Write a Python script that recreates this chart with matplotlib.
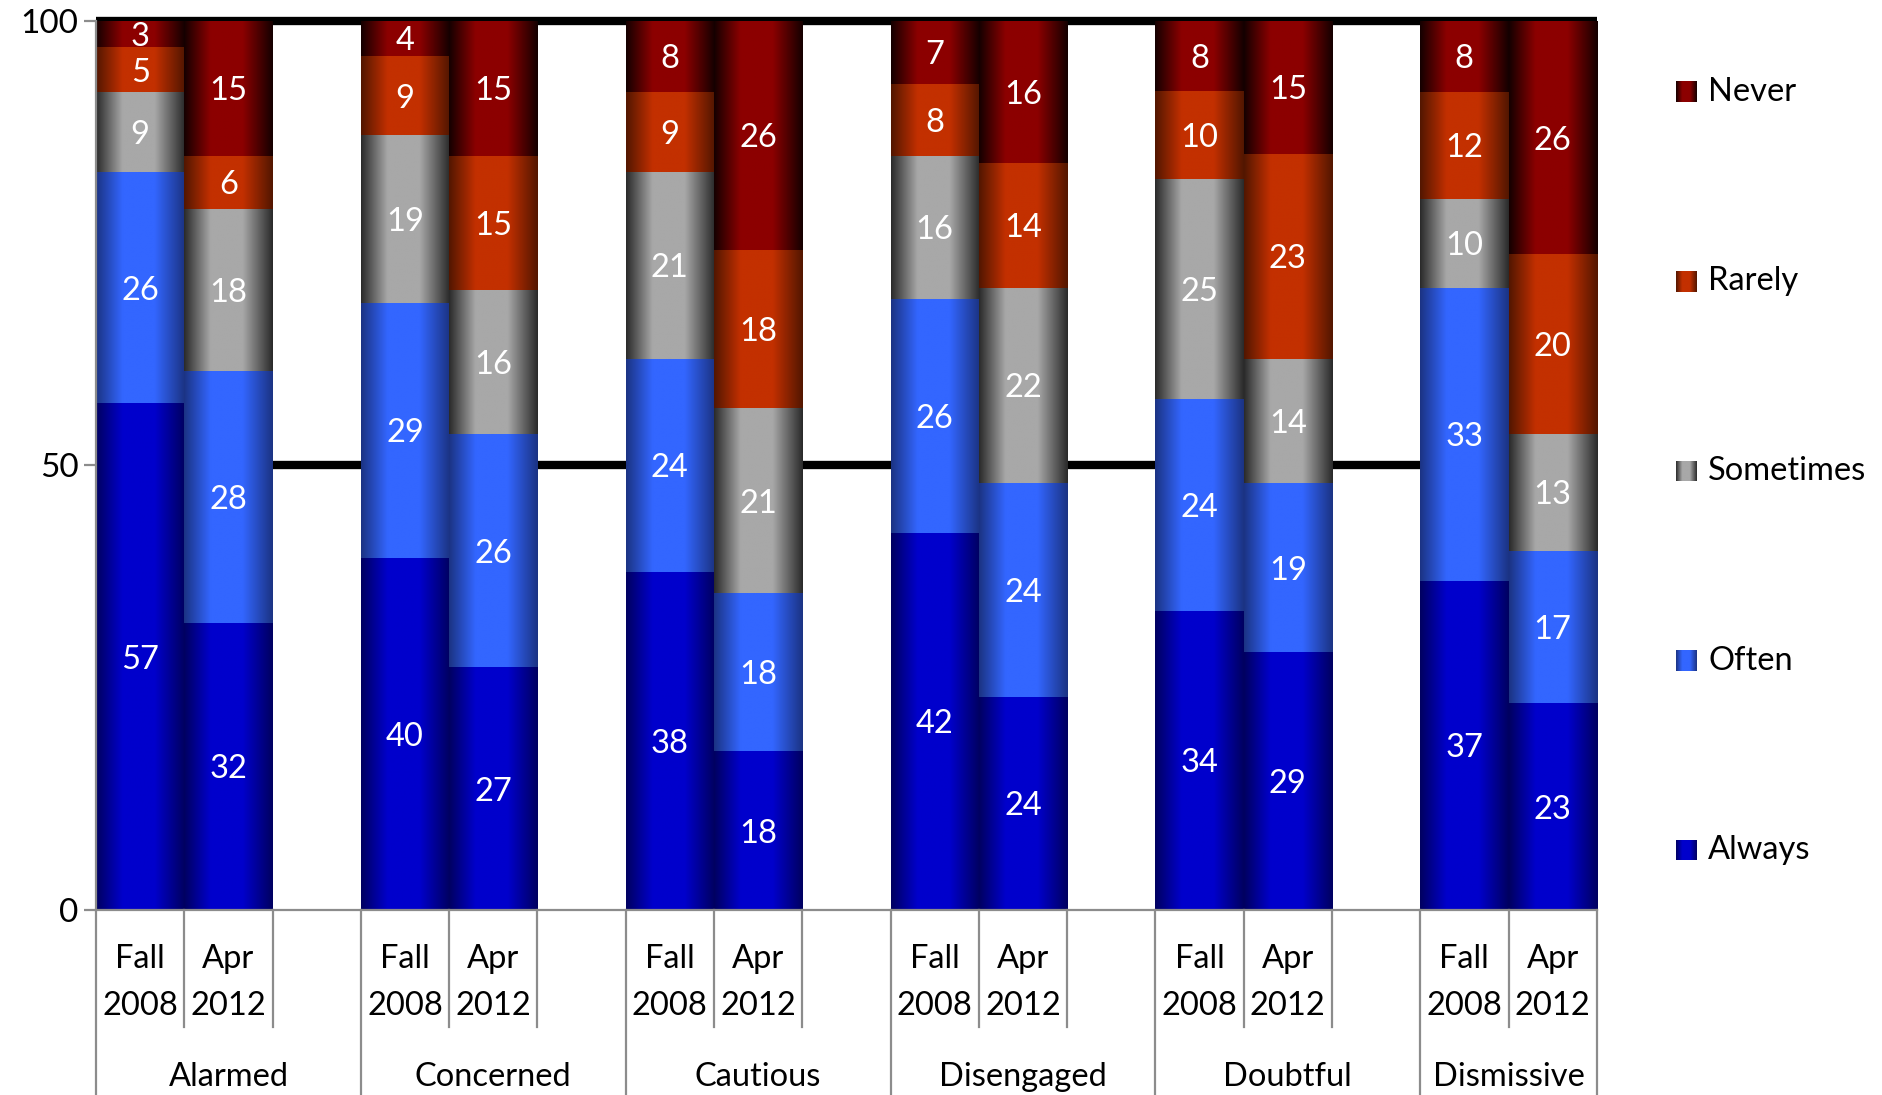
import numpy as np
import matplotlib
matplotlib.use("Agg")
import matplotlib.pyplot as plt
import matplotlib.transforms as mtransforms
from matplotlib.colors import LinearSegmentedColormap

plt.rcParams['font.family'] = ['Lato', 'DejaVu Sans']

groups = ['Alarmed', 'Concerned', 'Cautious', 'Disengaged', 'Doubtful', 'Dismissive']
waves = ['Fall\n2008', 'Apr\n2012']
responses = ['Always', 'Often', 'Sometimes', 'Rarely', 'Never']

# each list: Fall 2008, Apr 2012 for every group in order
always = [57, 32, 40, 27, 38, 18, 42, 24, 34, 29, 37, 23]
often = [26, 28, 29, 26, 24, 18, 26, 24, 24, 19, 33, 17]
sometimes = [9, 18, 19, 16, 21, 21, 16, 22, 25, 14, 10, 13]
rarely = [5, 6, 9, 15, 9, 18, 8, 14, 10, 23, 12, 20]
never = [3, 15, 4, 15, 8, 26, 7, 16, 8, 15, 8, 26]

series = [always, often, sometimes, rarely, never]

# (edge colour, centre colour) for the horizontal shading of each bar
shades = {
    'Always': ('#000060', '#0000cc'),
    'Often': ('#1b3383', '#3366ff'),
    'Sometimes': ('#2a2a2a', '#a8a8a8'),
    'Rarely': ('#521600', '#c33000'),
    'Never': ('#140000', '#8c0000'),
}
cmaps = {}
for name, (dark, light) in shades.items():
    cmaps[name] = LinearSegmentedColormap.from_list(
        name, [(0, dark), (0.3, light), (0.66, light), (1, dark)])
grad = np.linspace(0, 1, 256).reshape(1, -1)

GRAY = '#8c8c8c'
FS = 23.5

fig = plt.figure(figsize=(18.83, 10.95), dpi=100)
ax = fig.add_axes([0.051, 0.169, 0.797, 0.812])

# three slots per group (last slot empty), no trailing slot after the last group
xs = [3 * g + 0.5 + k for g in range(len(groups)) for k in range(len(waves))]
n_slots = 3 * len(groups) - 1

ax.axhline(50, color='black', lw=6, zorder=1, solid_capstyle='butt')
ax.axhline(100, color='black', lw=6, zorder=1, clip_on=False,
           solid_capstyle='butt')

# 100% stacked: each column scaled to its own total
totals = np.sum(series, axis=0)
bottom = np.zeros(len(xs))
for name, vals in zip(responses, series):
    share = np.array(vals) / totals * 100
    bars = ax.bar(xs, share, width=1.0, bottom=bottom, color='none',
                  edgecolor='none', zorder=2)
    for b, v in zip(bars, vals):
        x0, y0, w, h = b.get_x(), b.get_y(), b.get_width(), b.get_height()
        ax.imshow(grad, cmap=cmaps[name], aspect='auto', zorder=2,
                  extent=(x0, x0 + w, y0, y0 + h), interpolation='bilinear')
        ax.text(x0 + w / 2, y0 + h / 2, str(v), color='white', fontsize=FS,
                ha='center', va='center_baseline', zorder=3)
    bottom += share

ax.set_xlim(0, n_slots)
ax.set_ylim(0, 100)

for side in ['top', 'right']:
    ax.spines[side].set_visible(False)
for side in ['left', 'bottom']:
    ax.spines[side].set_color(GRAY)
    ax.spines[side].set_linewidth(1.6)
ax.set_xticks([])
ax.set_yticks([0, 50, 100])
ax.tick_params(axis='y', length=8.5, width=1.6, color=GRAY,
               labelsize=FS + 0.5, pad=4)

# two-level category axis drawn below the plot
blend = mtransforms.blended_transform_factory(ax.transData, ax.transAxes)
long_ticks = set(range(0, n_slots, 3)) | {n_slots}
for b in range(n_slots + 1):
    y_end = -0.21 if b in long_ticks else -0.1315
    ax.plot([b, b], [0, y_end], transform=blend, clip_on=False,
            color=GRAY, lw=1.6)

for i, x in enumerate(xs):
    ax.text(x, -0.0815, waves[i % 2], transform=blend, ha='center',
            va='center', fontsize=FS, linespacing=1.72)

for g, name in enumerate(groups):
    left = 3 * g
    right = min(3 * g + 3, n_slots)
    ax.text((left + right) / 2, -0.1875, name, transform=blend,
            ha='center', va='center', fontsize=FS)

# legend, top entry is the last series
W, H = fig.get_size_inches() * fig.dpi
for i, name in enumerate(responses[::-1]):
    cy = 92 + i * 189.5
    sq = fig.add_axes([1676 / W, 1 - (cy + 10.5) / H, 21 / W, 21 / H])
    sq.imshow(grad, cmap=cmaps[name], aspect='auto', interpolation='bilinear')
    sq.axis('off')
    fig.text(1708 / W, 1 - cy / H, name, fontsize=FS, va='center', ha='left')

fig.savefig('out.png', dpi=100)
